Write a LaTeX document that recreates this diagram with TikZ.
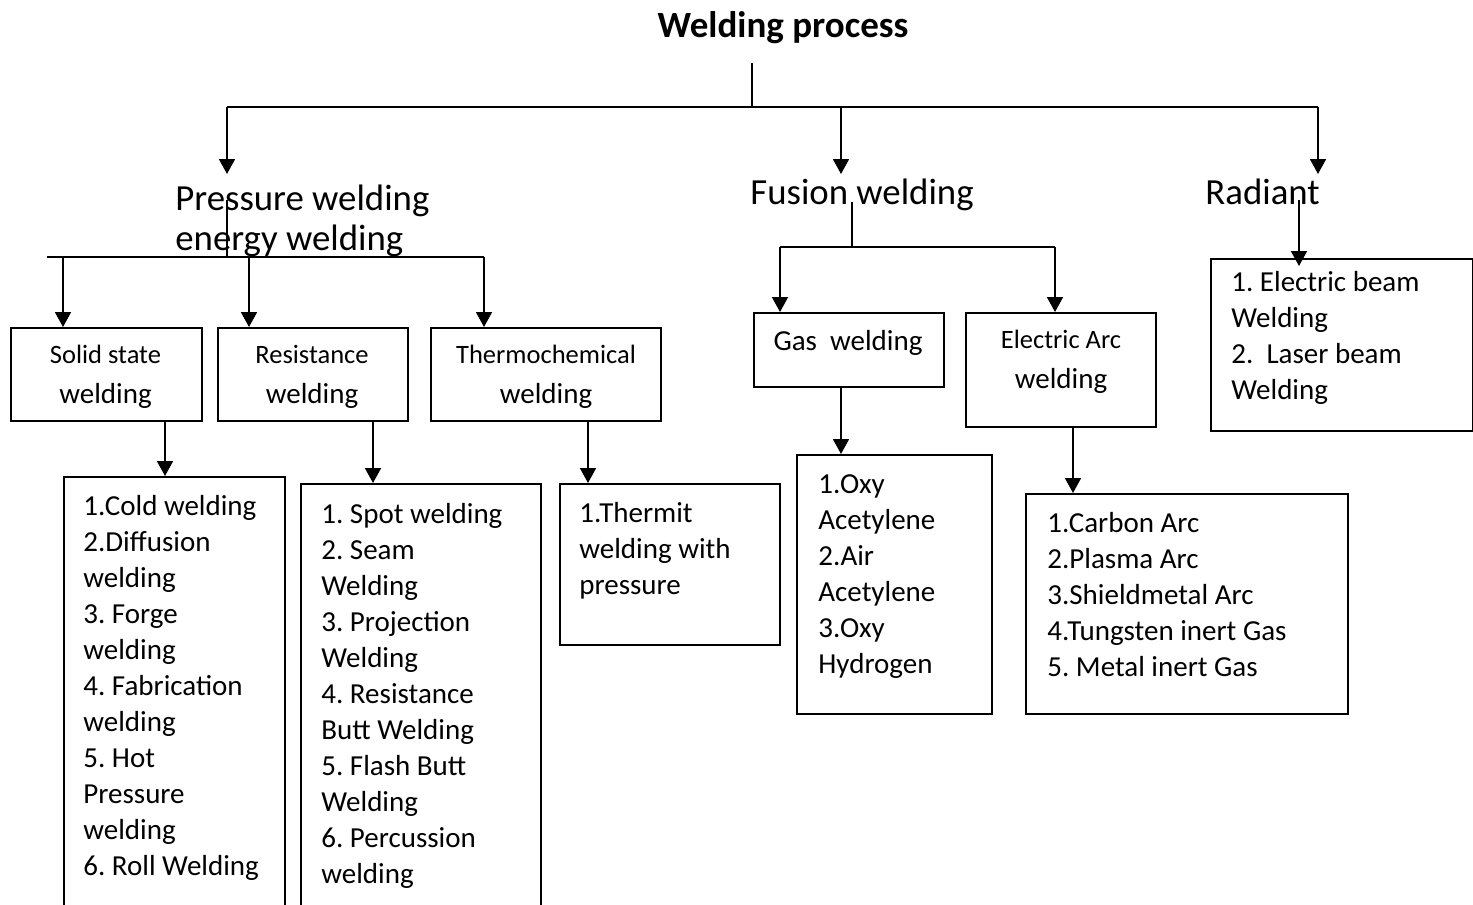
\documentclass[tikz,border=0pt]{standalone}
\usepackage{fontspec}
\setmainfont{Carlito}
\usetikzlibrary{arrows.meta,calc}
\frenchspacing

\newcommand{\liststrut}{\rule{0pt}{12pt}}
\newcommand{\headstrut}{\rule{0pt}{15pt}}
\newcommand{\firstln}{\fontsize{13.25}{20}\selectfont}

\tikzset{
    wire/.style={line width=0.9pt},
    arr/.style={wire,-{Triangle[length=7.5pt,width=8pt]}},
    box/.style={draw,line width=1pt,anchor=north west,inner sep=0pt},
    list/.style={anchor=north west,inner sep=0pt,align=left,font=\fontsize{14.5}{18}\selectfont},
    head/.style={anchor=north,inner sep=0pt,align=center,font=\fontsize{14.5}{20}\selectfont},
    big/.style={anchor=north west,inner sep=0pt,align=left,font=\fontsize{18.4}{20}\selectfont},
}

\begin{document}
\begin{tikzpicture}[x=0.5pt,y=-0.5pt]
    \useasboundingbox (0,0) rectangle (1473,905);
    \fill[white] (0,0) rectangle (1473,905);
    \clip (0,0) rectangle (1473,905);

    % titles
    \node[font=\fontsize{18.5}{22}\selectfont\bfseries,anchor=base] (root) at (783,37) {Welding process};
    \node[big] (pres) at (175,180) {\headstrut Pressure welding\\energy welding};
    \node[big,anchor=base west] (fus) at (750,204) {Fusion welding};
    \node[big,anchor=base west] (rad) at (1205,204) {Radiant};

    % boxes
    \node[box,minimum width=95.5pt,minimum height=46.5pt] (solid) at (10,327) {};
    \node[box,minimum width=95pt,minimum height=46.5pt] (resist) at (217,327) {};
    \node[box,minimum width=115pt,minimum height=46.5pt] (thermo) at (430,327) {};
    \node[box,minimum width=95pt,minimum height=37pt] (gas) at (753,312) {};
    \node[box,minimum width=95pt,minimum height=57pt] (arc) at (965,312) {};
    \node[box,minimum width=131pt,minimum height=86pt] (radbox) at (1210,258) {};
    \node[box,minimum width=110.5pt,minimum height=227pt] (solidlist) at (63,476) {};
    \node[box,minimum width=120pt,minimum height=223.5pt] (resistlist) at (300,483) {};
    \node[box,minimum width=110pt,minimum height=80.5pt] (thermolist) at (559,483) {};
    \node[box,minimum width=97.5pt,minimum height=129.5pt] (gaslist) at (796,454) {};
    \node[box,minimum width=161pt,minimum height=110pt] (arclist) at (1025,493) {};

    % box texts
    \node[head] (solidT) at (105.5,339) {\liststrut{\firstln Solid state}\\welding};
    \node[head] (resistT) at (312,339) {\liststrut{\firstln Resistance}\\welding};
    \node[head] (thermoT) at (546,339) {\liststrut{\firstln Thermochemical}\\welding};
    \node[head,anchor=base] (gasT) at (848,350) {Gas\ \ welding};
    \node[head] (arcT) at (1061,324) {\liststrut{\firstln Electric Arc}\\welding};

    \node[list] (radL) at (1231,267) {\liststrut 1. Electric beam\\Welding\\2.\ \ Laser beam\\Welding};
    \node[list] (solidL) at (83,491) {\liststrut 1.Cold welding\\2.Diffusion\\welding\\3. Forge\\welding\\4. Fabrication\\welding\\5. Hot\\Pressure\\welding\\6. Roll Welding};
    \node[list] (resistL) at (321,499) {\liststrut 1. Spot welding\\2. Seam\\Welding\\3. Projection\\Welding\\4. Resistance\\Butt Welding\\5. Flash Butt\\Welding\\6. Percussion\\welding};
    \node[list] (thermoL) at (579,498) {\liststrut 1.Thermit\\welding with\\pressure};
    \node[list] (gasL) at (818,469) {\liststrut 1.Oxy\\Acetylene\\2.Air\\Acetylene\\3.Oxy\\Hydrogen};
    \node[list] (arcL) at (1047,508) {\liststrut 1.Carbon Arc\\2.Plasma Arc\\3.Shieldmetal Arc\\4.Tungsten inert Gas\\5. Metal inert Gas};

    % first level
    \coordinate (stem) at (752,63);
    \coordinate (bus) at (752,107);
    \coordinate (pIn) at (227,174);
    \coordinate (fIn) at (841,174);
    \coordinate (rIn) at (1318,174);
    \draw[wire] (stem) -- (bus);
    \draw[wire] (pIn |- bus) -- (rIn |- bus);
    \foreach \c in {pIn,fIn,rIn}
        \draw[arr] (\c |- bus) -- (\c);

    % pressure branch
    \coordinate (pStem) at (227,200);
    \coordinate (pBus) at (47,257);
    \path ($(solid.north west)+(53,0)$) coordinate (sIn)
          ($(resist.north west)+(32,0)$) coordinate (rsIn)
          ($(thermo.north west)+(54,0)$) coordinate (tIn);
    \draw[wire] (pStem) -- (pStem |- pBus);
    \draw[wire] (pBus) -- (tIn |- pBus);
    \foreach \c in {sIn,rsIn,tIn}
        \draw[arr] (\c |- pBus) -- (\c);

    % fusion branch
    \coordinate (fStem) at (852,202);
    \coordinate (fBus) at (852,247);
    \path ($(gas.north west)+(27,0)$) coordinate (gIn)
          ($(arc.north west)+(90,0)$) coordinate (aIn);
    \draw[wire] (fStem) -- (fBus);
    \draw[wire] (gIn |- fBus) -- (aIn |- fBus);
    \foreach \c in {gIn,aIn}
        \draw[arr] (\c |- fBus) -- (\c);

    % radiant
    \coordinate (rStem) at (1299,200);
    \draw[arr] (rStem) -- ($(rStem |- radbox.north)+(0,8)$);

    % down to the lists
    \foreach \b/\l/\dx in {solid/solidlist/155,resist/resistlist/156,thermo/thermolist/158,gas/gaslist/88,arc/arclist/108} {
        \path ($(\b.south west)+(\dx,0)$) coordinate (\b Out);
        \draw[arr] (\b Out) -- (\b Out |- \l.north);
    }
\end{tikzpicture}
\end{document}
